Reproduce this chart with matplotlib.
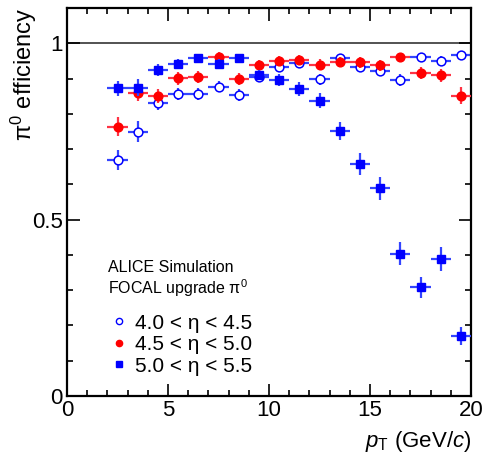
import matplotlib
matplotlib.use('Agg')
import matplotlib.pyplot as plt
from matplotlib.lines import Line2D
from matplotlib.ticker import MultipleLocator

plt.rcParams['font.family'] = ['Liberation Sans', 'DejaVu Sans']
plt.rcParams['mathtext.fontset'] = 'custom'
plt.rcParams['mathtext.rm'] = 'Liberation Sans'
plt.rcParams['mathtext.it'] = 'Liberation Sans:italic'

# bin centres in pT (GeV/c), bin width 1
pt = [2.5, 3.5, 4.5, 5.5, 6.5, 7.5, 8.5, 9.5, 10.5, 11.5, 12.5,
      13.5, 14.5, 15.5, 16.5, 17.5, 18.5, 19.5]
pt_err = [0.5] * len(pt)

# 4.0 < eta < 4.5 (open circles)
eff_a = [0.669, 0.749, 0.830, 0.856, 0.856, 0.877, 0.854, 0.905, 0.932,
         0.943, 0.898, 0.957, 0.932, 0.921, 0.896, 0.960, 0.951, 0.967]
err_a = [0.028, 0.030, 0.020, 0.018, 0.017, 0.016, 0.017, 0.015, 0.014,
         0.013, 0.016, 0.012, 0.014, 0.015, 0.017, 0.012, 0.012, 0.010]

# 4.5 < eta < 5.0 (full circles)
eff_b = [0.764, 0.858, 0.851, 0.901, 0.904, 0.962, 0.899, 0.938, 0.950,
         0.953, 0.939, 0.946, 0.946, 0.937, 0.960, 0.915, 0.909, 0.851]
err_b = [0.028, 0.022, 0.020, 0.018, 0.017, 0.012, 0.017, 0.015, 0.014,
         0.014, 0.015, 0.014, 0.015, 0.016, 0.013, 0.017, 0.018, 0.024]

# 5.0 < eta < 5.5 (full squares)
eff_c = [0.872, 0.874, 0.924, 0.941, 0.957, 0.941, 0.959, 0.910, 0.896,
         0.870, 0.837, 0.752, 0.658, 0.589, 0.403, 0.308, 0.388, 0.170]
err_c = [0.022, 0.024, 0.018, 0.015, 0.012, 0.015, 0.012, 0.015, 0.018,
         0.020, 0.021, 0.026, 0.032, 0.033, 0.033, 0.030, 0.035, 0.025]

labels = ['4.0 < η < 4.5', '4.5 < η < 5.0', '5.0 < η < 5.5']

blue = '#0000ff'
red = '#ff0000'

fig = plt.figure(figsize=(4.84, 4.54), dpi=100)
ax = fig.add_axes([67/484, 58/454, 404/484, 388/454])

ax.axhline(1.0, color='#444444', lw=1.3, zorder=1)

ax.errorbar(pt, eff_a, xerr=pt_err, yerr=err_a, fmt='o', ms=6.3,
            mfc='white', mec=blue, mew=1.1, ecolor='#3344ff', elinewidth=1.6,
            capsize=0, zorder=2)
ax.errorbar(pt, eff_b, xerr=pt_err, yerr=err_b, fmt='o', ms=6.3,
            mfc=red, mec=red, ecolor='#ff3344', elinewidth=1.6,
            capsize=0, zorder=3)
ax.errorbar(pt, eff_c, xerr=pt_err, yerr=err_c, fmt='s', ms=6.3,
            mfc=blue, mec=blue, ecolor='#3344ff', elinewidth=1.6,
            capsize=0, zorder=4)

ax.set_xlim(0, 20)
ax.set_ylim(0, 1.1)
ax.xaxis.set_major_locator(MultipleLocator(5))
ax.xaxis.set_minor_locator(MultipleLocator(1))
ax.yaxis.set_minor_locator(MultipleLocator(0.1))
ax.set_yticks([0, 0.5, 1])
ax.set_yticklabels(['0', '0.5', '1'])
ax.tick_params(which='both', direction='in', top=True, right=True,
               labelsize=16, width=1.2, pad=3)
ax.tick_params(which='major', length=9)
ax.tick_params(which='minor', length=4.5)
for s in ax.spines.values():
    s.set_linewidth(1.6)

ax.set_xlabel('$p_\\mathrm{T}$ (GeV/$c$)', fontsize=16, loc='right', labelpad=6)
fig.text(24/484, 1 - 8/454, 'π$^{0}$ efficiency', fontsize=17, rotation=90,
         ha='center', va='top')

ax.text(0.101, 0.32, 'ALICE Simulation', transform=ax.transAxes, fontsize=11.5)
ax.text(0.101, 0.263, 'FOCAL upgrade π$^{0}$', transform=ax.transAxes, fontsize=11.5)

handles = [
    Line2D([], [], ls='none', marker='o', ms=4.5, mfc='white', mec=blue, mew=1.0),
    Line2D([], [], ls='none', marker='o', ms=4.5, mfc=red, mec=red),
    Line2D([], [], ls='none', marker='s', ms=4.5, mfc=blue, mec=blue),
]
ax.legend(handles, labels, loc='upper left', bbox_to_anchor=(0.11, 0.212),
          frameon=False, fontsize=15, handlelength=0.7, handletextpad=0.45,
          labelspacing=0.12, borderpad=0, borderaxespad=0)

fig.savefig('out.png', dpi=100)
